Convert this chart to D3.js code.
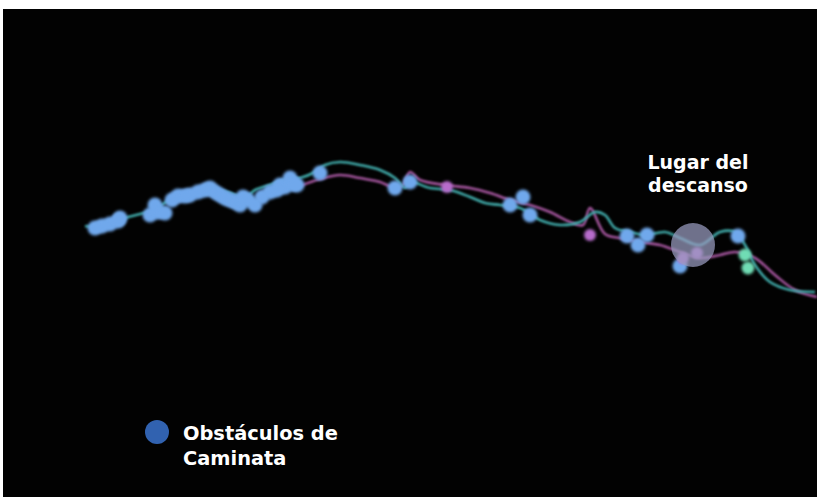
<!DOCTYPE html>
<html><head><meta charset="utf-8">
<script src="https://cdn.jsdelivr.net/npm/d3@7"></script>
<style>
html,body{margin:0;padding:0;background:#fff;}
svg{display:block;}
</style></head>
<body>
<script>
// distance (arbitrary units) and elevation (arbitrary units)
const tealDist = [0,10,25,40,55,65,75,85,100,115,130,145,160,170,185,200,215,230,240,255,275,295,310,320,325,345,365,385,400,415,435,455,475,495,510,520,530,545,560,580,595,615,635,650,660,670,685,705,730];
const tealElev = [271,270,275,279,283,285,291,297,301,305,307,304,299,307,312,317,319,325,332,335,332,327,319,309,315,309,307,300,294,292,289,277,272,275,285,282,269,265,262,265,259,252,265,265,252,232,215,207,205];
const pinkDist = [215,235,255,275,295,310,318,325,335,360,385,405,425,445,465,485,498,505,520,535,555,575,595,615,635,650,670,690,710,732];
const pinkElev = [311,318,322,319,315,309,312,325,317,312,309,304,297,292,285,275,272,289,263,259,255,252,245,239,242,245,239,222,207,200];
const dotDist = [10,17,25,33,35,65,70,73,80,87,93,100,105,113,120,125,130,135,140,145,150,155,158,163,170,177,185,192,195,200,205,208,212,235,310,325,425,438,445,542,553,562,595,653];
const dotElev = [269,271,273,276,279,282,292,285,284,297,301,301,302,305,307,309,305,302,299,297,295,292,300,297,292,300,305,307,312,310,319,313,312,324,309,315,292,300,282,261,252,262,231,261];
const greenDist = [660,663];
const greenElev = [242,229];
const purpleDist = [362,505,598,612];
const purpleElev = [310,262,239,244];
const rest = {dist:608, elev:252, label:["Lugar del","descanso"]};
const legendLabel = ["Obstáculos de","Caminata"];

const W=817,H=497;
const svg=d3.select("body").append("svg").attr("width",W).attr("height",H);
const defs=svg.append("defs");
const glow=defs.append("filter").attr("id","glow").attr("x","-50%").attr("y","-50%").attr("width","200%").attr("height","200%");
glow.append("feGaussianBlur").attr("stdDeviation",1.6);
const glow2=defs.append("filter").attr("id","glow2").attr("x","-20%").attr("y","-50%").attr("width","140%").attr("height","200%");
glow2.append("feGaussianBlur").attr("stdDeviation",0.8);

svg.append("rect").attr("x",3).attr("y",9).attr("width",W-3).attr("height",H-9).attr("fill","#020202");

const x=d3.scaleLinear().domain([0,732]).range([85,817]);
const y=d3.scaleLinear().domain([0,488]).range([497,9]);
const line=d3.line().x(d=>x(d[0])).y(d=>y(d[1])).curve(d3.curveCatmullRom);

const pink=d3.zip(pinkDist,pinkElev);
const teal=d3.zip(tealDist,tealElev);
svg.append("path").attr("d",line(pink)).attr("fill","none").attr("stroke","#a3549c").attr("stroke-width",2.6).attr("filter","url(#glow2)");
svg.append("path").attr("d",line(teal)).attr("fill","none").attr("stroke","#3fa9a8").attr("stroke-width",2.6).attr("filter","url(#glow2)");

const dots=d3.zip(dotDist,dotElev);
svg.append("g").selectAll("circle").data(dots).join("circle")
  .attr("cx",d=>x(d[0])).attr("cy",d=>y(d[1])).attr("r",7.5)
  .attr("fill","#70a8ec").attr("filter","url(#glow)");
svg.append("g").selectAll("circle").data(d3.zip(greenDist,greenElev)).join("circle")
  .attr("cx",d=>x(d[0])).attr("cy",d=>y(d[1])).attr("r",6.5)
  .attr("fill","#6fdcb4").attr("filter","url(#glow)");
svg.append("g").selectAll("circle").data(d3.zip(purpleDist,purpleElev)).join("circle")
  .attr("cx",d=>x(d[0])).attr("cy",d=>y(d[1])).attr("r",6)
  .attr("fill","#b76ccc").attr("filter","url(#glow)");

svg.append("circle").attr("cx",x(rest.dist)).attr("cy",y(rest.elev)).attr("r",22)
  .attr("fill","#9a9cc0").attr("fill-opacity",0.72);

const font="'DejaVu Sans', sans-serif";
svg.append("g").selectAll("text").data(rest.label).join("text")
  .attr("x",698).attr("y",(d,i)=>169+i*23).attr("text-anchor","middle")
  .attr("font-family",font).attr("font-weight","bold").attr("font-size",19)
  .attr("fill","#fff").text(d=>d);

svg.append("circle").attr("cx",157).attr("cy",432).attr("r",12).attr("fill","#3162b0");
svg.append("g").selectAll("text").data(legendLabel).join("text")
  .attr("x",183).attr("y",(d,i)=>440+i*25)
  .attr("font-family",font).attr("font-weight","bold").attr("font-size",19.4)
  .attr("fill","#fff").text(d=>d);
</script>
</body></html>
